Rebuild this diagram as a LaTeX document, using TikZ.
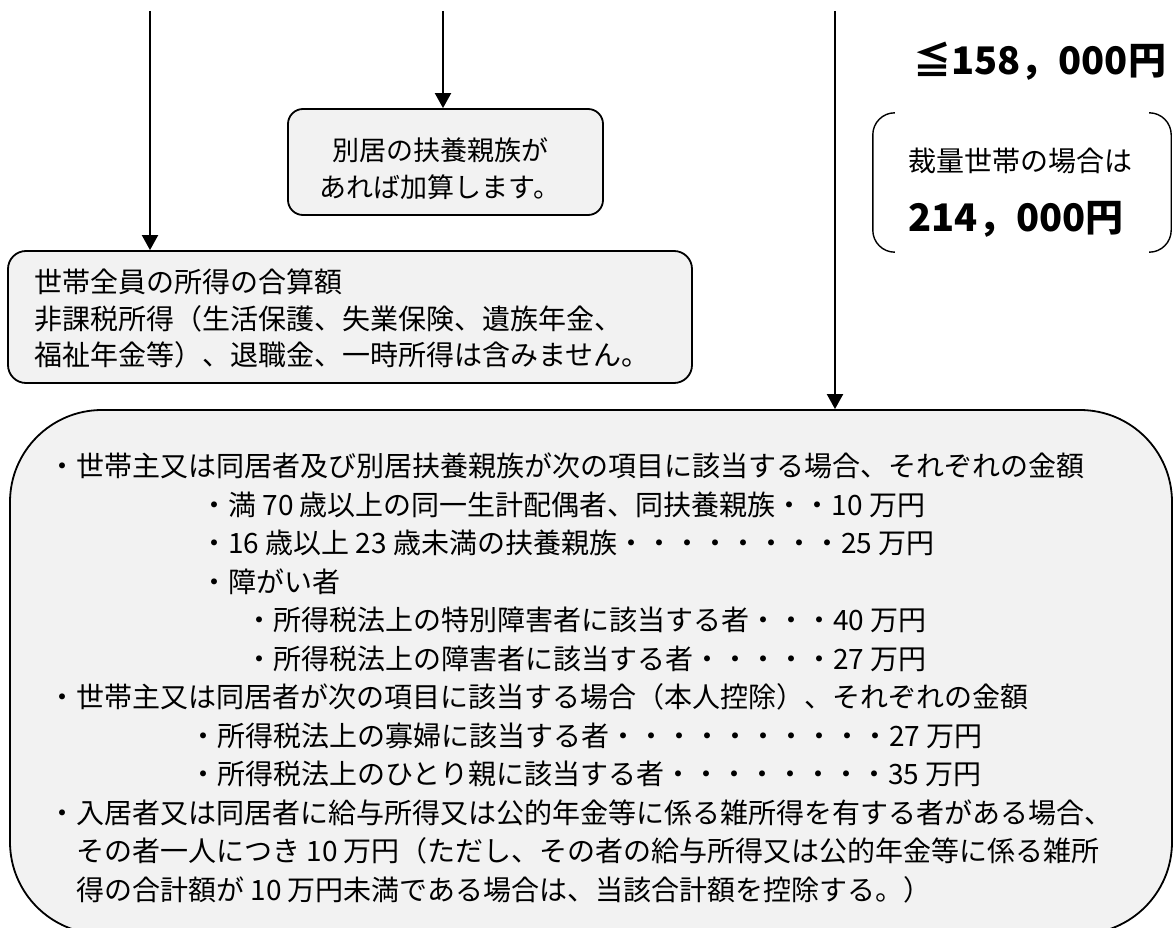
\documentclass[tikz,border=0pt]{standalone}
\usepackage{fontspec}
\setmainfont{Noto Sans CJK JP}
\usetikzlibrary{arrows.meta}

\begin{document}
\begin{tikzpicture}[
  x=1pt, y=-1pt,
  waku/.style={draw,line width=1.8pt,fill=black!5,rounded corners=#1,inner sep=0pt},
  ya/.style={-{Triangle[width=16pt,length=15pt]},line width=2pt},
  bun/.style={inner sep=0pt,align=left,font=\fontsize{28}{38.5}\selectfont},
  futoji/.style={inner sep=0pt,font=\fontsize{38}{40}\selectfont\bfseries}
]
  \useasboundingbox (0,0) rectangle (1176,928);
  % boxes
  \node[waku=15pt,minimum width=315pt,minimum height=106pt] (bekkyo) at (445.5,162) {};
  \node[waku=18pt,minimum width=684pt,minimum height=132pt] (shotoku) at (350,317) {};
  \node[waku=92pt,minimum width=1162pt,minimum height=524pt] (kojo) at (591,672) {};
  \node[minimum width=298pt,minimum height=139pt,inner sep=0pt] (saikyo) at (1022,182.5) {};

  % arrows from the top
  \coordinate (s1) at (150,11);
  \coordinate (s2) at (443,11);
  \coordinate (s3) at (835,11);
  \draw[ya] (s1) -- (s1 |- shotoku.north);
  \draw[ya] (s2) -- (s2 |- bekkyo.north);
  \draw[ya] (s3) -- (s3 |- kojo.north);

  % bracket
  \draw[line width=1.4pt,rounded corners=22pt] ([xshift=21pt]saikyo.north west) -- (saikyo.north west)
    -- (saikyo.south west) -- ([xshift=21pt]saikyo.south west);
  \draw[line width=1.4pt,rounded corners=22pt] ([xshift=-21pt]saikyo.north east) -- (saikyo.north east)
    -- (saikyo.south east) -- ([xshift=-21pt]saikyo.south east);

  % texts
  \node[bun,align=center,font=\fontsize{27}{37}\selectfont] (bekkyotxt) at (440,168.5)
    {別居の扶養親族が\\あれば加算します。};
  \node[bun,anchor=north west,font=\fontsize{28}{36.5}\selectfont] (shotokutxt) at (34,269)
    {世帯全員の所得の合算額\\非課税所得（生活保護、失業保険、遺族年金、\\福祉年金等）、退職金、一時所得は含みません。};
  \node[futoji,anchor=west] (gendo) at (913,61) {≦158，000円};
  \node[bun,font=\fontsize{28}{30}\selectfont] (saikyo1) at (1020,161) {裁量世帯の場合は};
  \node[futoji] (saikyo2) at (1016,219) {214，000円};
  \node[bun,anchor=north west] (kojotxt) at (48,453) {%
    ・世帯主又は同居者及び別居扶養親族が次の項目に該当する場合、それぞれの金額\\
    \hspace*{152pt}・満 70 歳以上の同一生計配偶者、同扶養親族・・10 万円\\
    \hspace*{152pt}・16 歳以上 23 歳未満の扶養親族・・・・・・・・25 万円\\
    \hspace*{152pt}・障がい者\\
    \hspace*{197pt}・所得税法上の特別障害者に該当する者・・・40 万円\\
    \hspace*{197pt}・所得税法上の障害者に該当する者・・・・・27 万円\\
    ・世帯主又は同居者が次の項目に該当する場合（本人控除）、それぞれの金額\\
    \hspace*{141pt}・所得税法上の寡婦に該当する者・・・・・・・・・・27 万円\\
    \hspace*{141pt}・所得税法上のひとり親に該当する者・・・・・・・・35 万円\\
    ・入居者又は同居者に給与所得又は公的年金等に係る雑所得を有する者がある場合、\\
    \hspace*{28pt}その者一人につき 10 万円（ただし、その者の給与所得又は公的年金等に係る雑所\\
    \hspace*{28pt}得の合計額が 10 万円未満である場合は、当該合計額を控除する。）};
\end{tikzpicture}
\end{document}
